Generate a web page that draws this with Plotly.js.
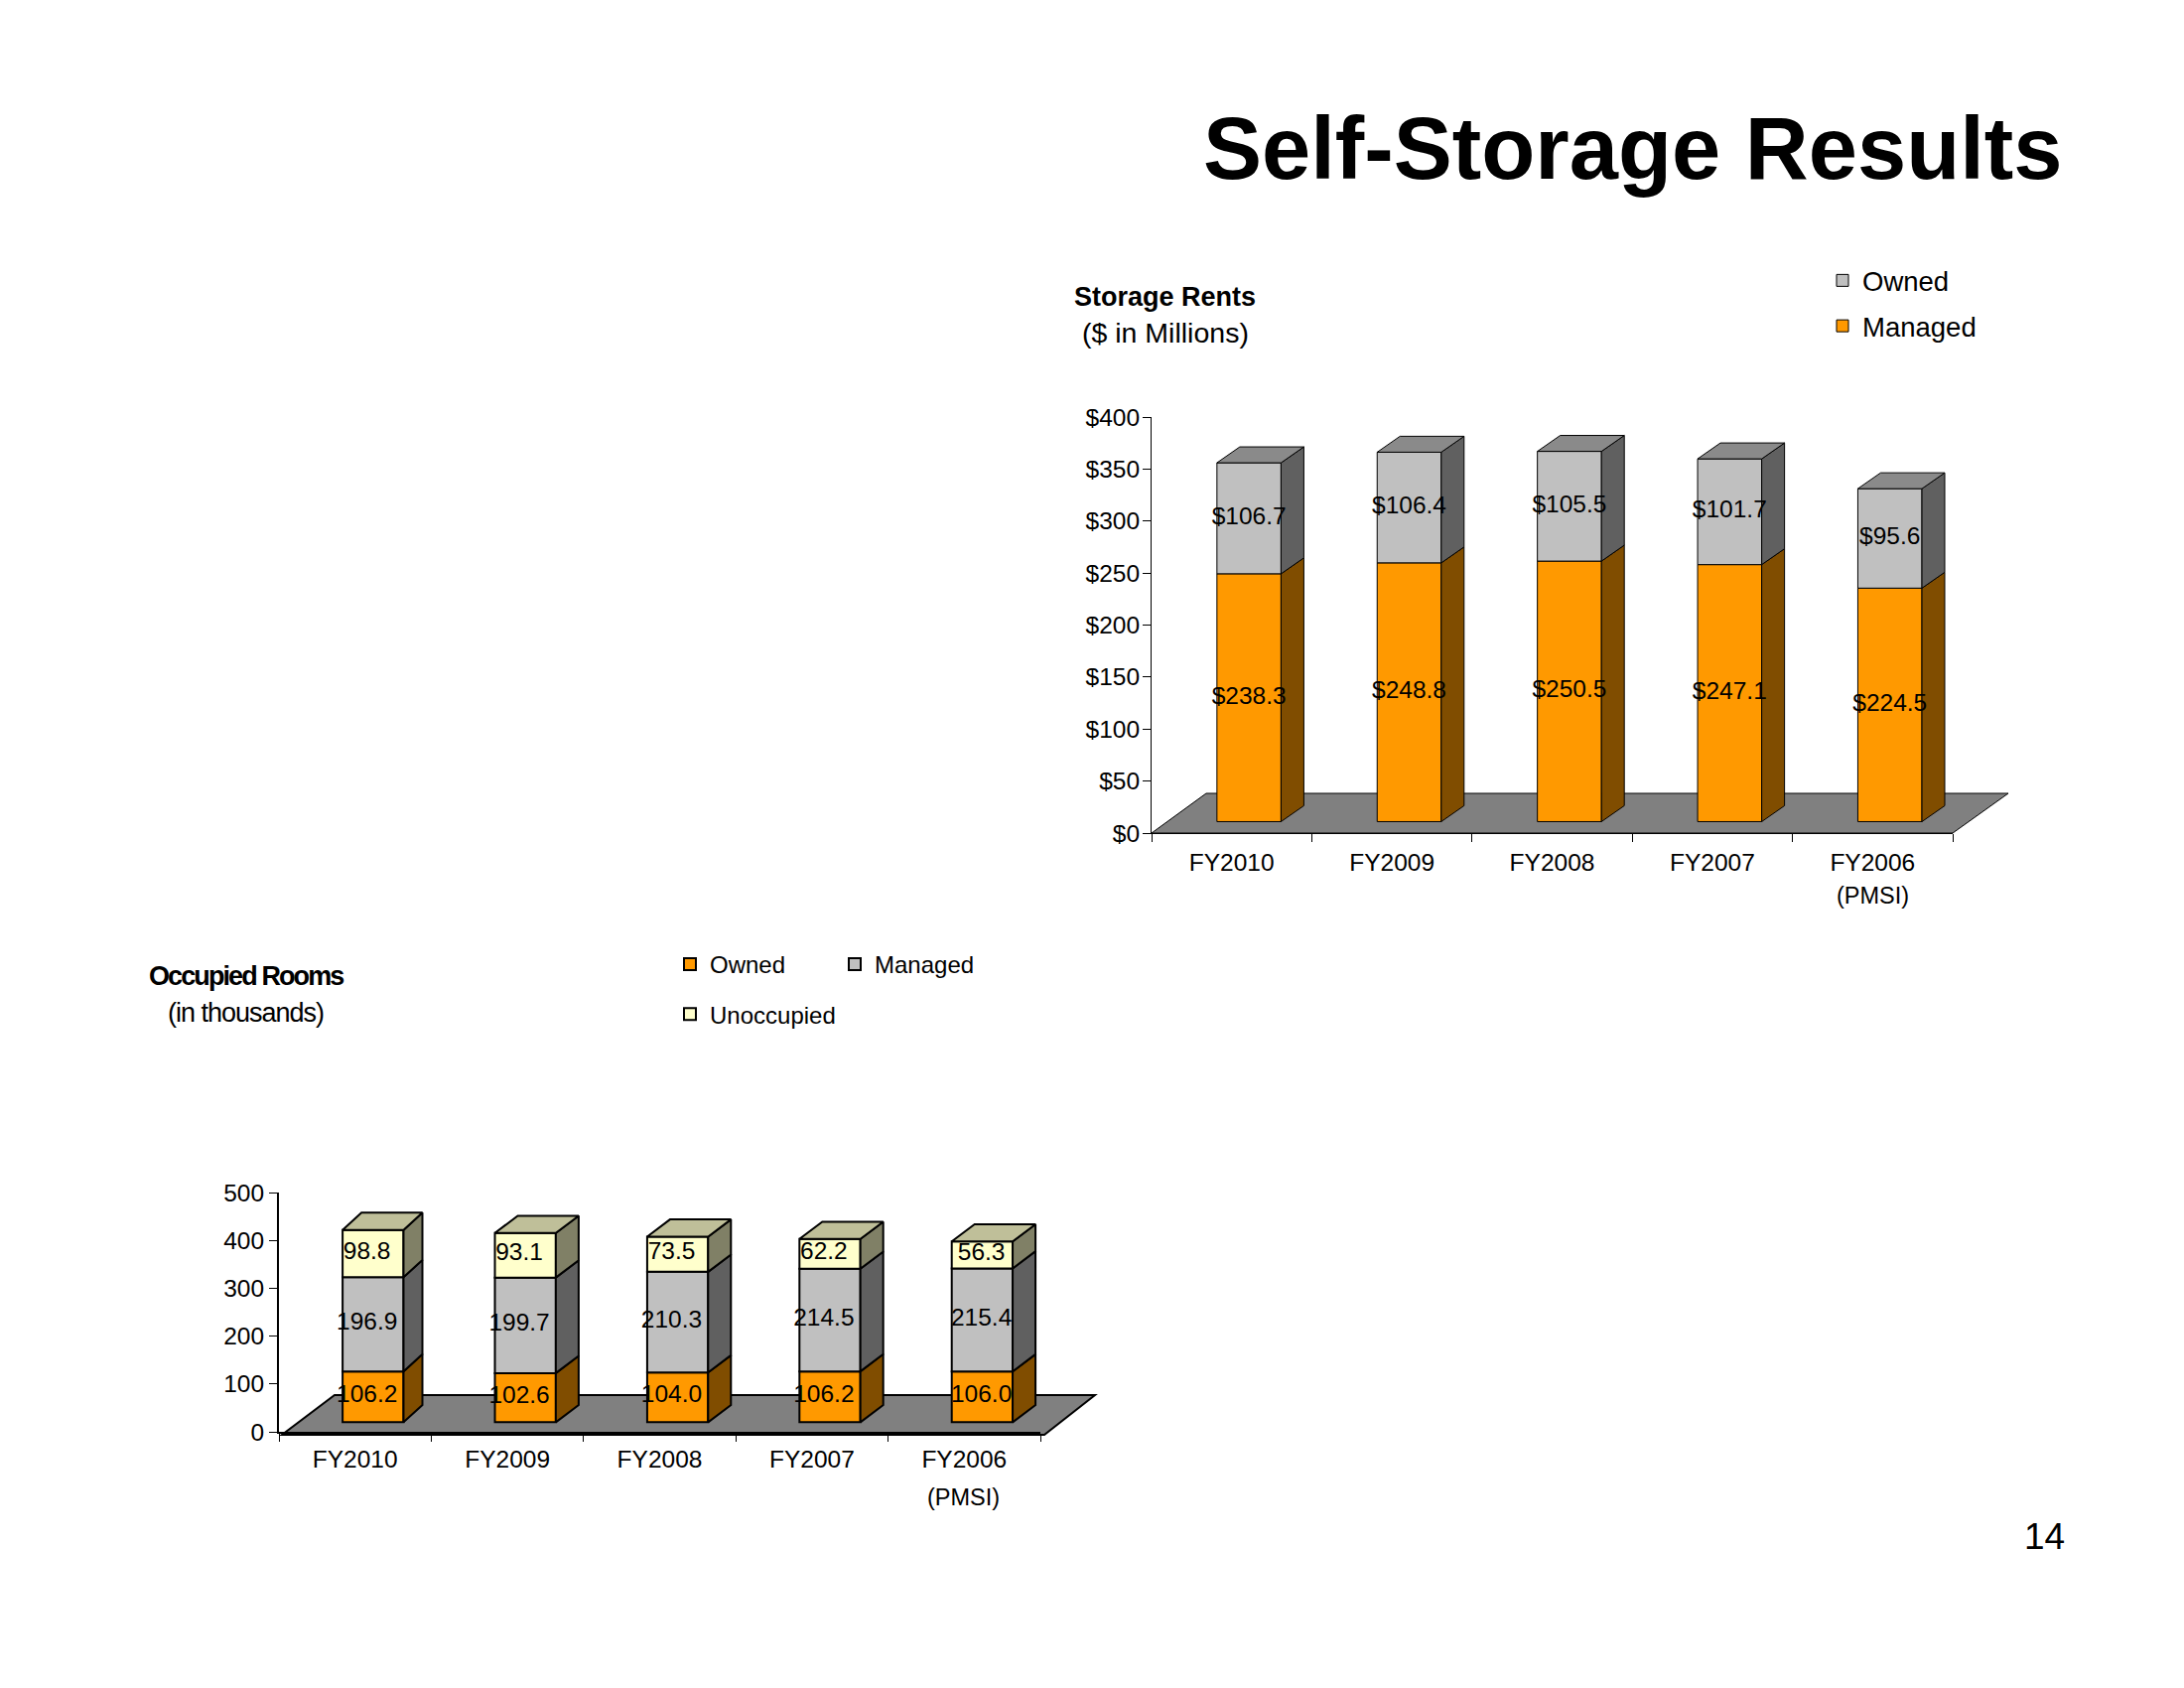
<!DOCTYPE html>
<html>
<head>
<meta charset="utf-8">
<script src="https://cdn.plot.ly/plotly-3.0.1.min.js"></script>
<style>html,body{margin:0;padding:0;background:#fff}</style>
</head>
<body>
<div id="chart" style="width:2200px;height:1700px"></div>
<script>
// ---------- data ----------
const categories = ['FY2010','FY2009','FY2008','FY2007','FY2006'];
const rentsManaged = [238.3,248.8,250.5,247.1,224.5];
const rentsOwned   = [106.7,106.4,105.5,101.7,95.6];
const roomsOwned      = [106.2,102.6,104.0,106.2,106.0];
const roomsManaged    = [196.9,199.7,210.3,214.5,215.4];
const roomsUnoccupied = [98.8,93.1,73.5,62.2,56.3];

// ---------- styles ----------
const FONT = 'Liberation Sans, Arial, sans-serif';
const W = 2200, H = 1700;
const ORANGE = {front:'#FF9900', side:'#804D00', top:'#FF9900'};
const GRAY   = {front:'#C0C0C0', side:'#606060', top:'#8A8A8A'};
const CREAM  = {front:'#FFFFCC', side:'#808066', top:'#BFBF99'};

const px = {
  a:{x0:1160,x1:1967,y0:839,y1:420,max:400,base:11,shift:0.108,dx:[0.1425,0.1425,0.1425,0.1425,0.1425],dy:15.3,lw:1,labelDx:[0,0,0,0,0],labelDy:0,prefix:'$',
     xStandoff:8,yStandoff:-2,floor:[[1160,839],[1967,839],[2023,799],[1215,799]]},
  b:{x0:281,x1:1048,y0:1442,y1:1201,max:500,base:20,shift:0.118,dx:[0.124,0.15,0.15,0.15,0.15],dy:36,lw:2,labelDx:[-0.04,-0.04,-0.04,-0.04,-0.005],labelDy:2,prefix:'',
     xStandoff:5,yStandoff:0,floor:[[284,1445],[1052,1445],[1103,1405],[337,1405]]}
};

const traces = [];
const labelTraces = [];

function addStack(conf, xa, ya, series) {
  const barW = 0.4;
  const bx = categories.map((_, i) => i + 0.5 + conf.shift);
  const running = categories.map(() => conf.base);
  series.forEach((s, si) => {
    const bases = running.slice();
    const tops = bases.map((b, i) => b + s.values[i]);
    traces.push({
      type:'bar', x:bx, y:s.values, base:bases, width:barW, name:s.name,
      xaxis:xa, yaxis:ya, legend:s.legend, legendgroup:s.name, legendrank:s.rank, showlegend:true,
      marker:{color:s.color.front, line:{color:'#000', width:conf.lw}}, hoverinfo:'skip'
    });
    const sx = [], sy = [];
    bx.forEach((x, i) => {
      const r = x + barW/2, d = conf.dx[i];
      sx.push(r, r+d, r+d, r, r, null);
      sy.push(bases[i], bases[i]+conf.dy, tops[i]+conf.dy, tops[i], bases[i], null);
    });
    traces.push({type:'scatter', mode:'lines', x:sx, y:sy, fill:'toself', fillcolor:s.color.side,
      line:{color:'#000', width:conf.lw}, xaxis:xa, yaxis:ya, showlegend:false, hoverinfo:'skip', cliponaxis:false});
    if (si === series.length - 1) {
      const tx = [], ty = [];
      bx.forEach((x, i) => {
        const l = x - barW/2, r = x + barW/2, d = conf.dx[i];
        tx.push(l, l+d, r+d, r, l, null);
        ty.push(tops[i], tops[i]+conf.dy, tops[i]+conf.dy, tops[i], tops[i], null);
      });
      traces.push({type:'scatter', mode:'lines', x:tx, y:ty, fill:'toself', fillcolor:s.color.top,
        line:{color:'#000', width:conf.lw}, xaxis:xa, yaxis:ya, showlegend:false, hoverinfo:'skip', cliponaxis:false});
    }
    labelTraces.push({type:'scatter', mode:'text',
      x:bx.map((x, i) => x + conf.labelDx[i]),
      y:bases.map((b, i) => b + s.values[i]/2 + conf.labelDy),
      text:s.values.map(v => conf.prefix + v.toFixed(1)),
      textposition:'middle center', textfont:{family:FONT, size:24.5, color:'#000'},
      xaxis:xa, yaxis:ya, showlegend:false, hoverinfo:'skip', cliponaxis:false});
    bases.forEach((b, i) => { running[i] = tops[i]; });
  });
}

addStack(px.a, 'x', 'y', [
  {name:'Managed', values:rentsManaged, color:ORANGE, legend:'legend', rank:2},
  {name:'Owned', values:rentsOwned, color:GRAY, legend:'legend', rank:1}
]);
addStack(px.b, 'x2', 'y2', [
  {name:'Owned', values:roomsOwned, color:ORANGE, legend:'legend2', rank:1},
  {name:'Managed', values:roomsManaged, color:GRAY, legend:'legend3', rank:1},
  {name:'Unoccupied', values:roomsUnoccupied, color:CREAM, legend:'legend2', rank:2}
]);

const centers = categories.map((_, i) => i + 0.5);
const bounds = [0,1,2,3,4,5];

function xAxis(conf, anchor) {
  return {
    domain:[conf.x0/W, conf.x1/W], range:[0,5], anchor:anchor, fixedrange:true,
    tickmode:'array', tickvals:centers, ticktext:categories, ticks:'', showgrid:false, zeroline:false,
    tickfont:{family:FONT, size:24.5, color:'#000'}, ticklabelstandoff:conf.xStandoff,
    showline:true, linecolor:'#000', linewidth:conf.lw,
    minor:{tickmode:'array', tickvals:bounds, ticks:'outside', ticklen:8, tickcolor:'#000', tickwidth:1, showgrid:false}
  };
}
function yAxis(conf, anchor, dtick) {
  return {
    domain:[1-conf.y0/H, 1-conf.y1/H], range:[0,conf.max], anchor:anchor, fixedrange:true,
    dtick:dtick, tickprefix:conf.prefix, ticks:'outside', ticklen:8, tickwidth:1, tickcolor:'#000',
    showgrid:false, zeroline:false, showline:true, linecolor:'#000', linewidth:conf.lw,
    tickfont:{family:FONT, size:24.5, color:'#000'}, ticklabelstandoff:conf.yStandoff
  };
}
function floorShape(conf) {
  const d = conf.floor.map((p, i) => (i ? 'L' : 'M') + (p[0]/W) + ',' + (1-p[1]/H)).join(' ') + ' Z';
  return {type:'path', xref:'paper', yref:'paper', layer:'below', path:d,
          fillcolor:'#808080', line:{color:'#000', width:conf.lw}};
}
function note(text, x, y, size, bold, anchor) {
  return {xref:'paper', yref:'paper', x:x/W, y:1-y/H, text:bold ? '<b>'+text+'</b>' : text, showarrow:false,
          xanchor:anchor||'left', yanchor:'middle', xshift:0, align:'left',
          borderpad:0, font:{family:FONT, size:size, color:'#000'}};
}
function legendAt(x, y, size, gap, order) {
  return {x:x/W, y:1-y/H, xanchor:'left', yanchor:'top', orientation:'v', bgcolor:'rgba(0,0,0,0)',
          font:{family:FONT, size:size, color:'#000'}, tracegroupgap:gap, traceorder:order, itemwidth:30, itemclick:false, itemdoubleclick:false};
}

const layout = {
  width:W, height:H, margin:{l:0,r:0,t:0,b:0}, paper_bgcolor:'#fff', plot_bgcolor:'rgba(0,0,0,0)',
  barmode:'overlay', bargap:0, showlegend:true,
  xaxis:xAxis(px.a,'y'), yaxis:yAxis(px.a,'x',50),
  xaxis2:xAxis(px.b,'y2'), yaxis2:yAxis(px.b,'x2',100),
  legend:legendAt(1836, 258, 27.5, 7, 'grouped'),
  legend2:legendAt(675, 949, 24, 16, 'grouped'),
  legend3:legendAt(841, 949, 24, 0, 'normal'),
  shapes:[floorShape(px.a), floorShape(px.b)],
  annotations:[
    note('Self-Storage Results', 2079, 149, 88.5, true, 'right'),
    note('Storage Rents', 1081, 299, 27, true),
    note('($ in Millions)', 1089, 335, 28.5, false),
    note('Occupied Rooms', 149, 983, 27, true),
    note('(in thousands)', 168, 1020, 27, false),
    note('(PMSI)', 1886, 902, 23.5, false, 'center'),
    note('(PMSI)', 970, 1508, 23.5, false, 'center'),
    note('14', 2081, 1547, 37, false, 'right')
  ]
};

Plotly.newPlot('chart', traces.concat(labelTraces), layout, {staticPlot:true, displayModeBar:false}).then(() => {
  document.querySelectorAll('.annotation-text').forEach(t => {
    const s = t.textContent;
    if (s === 'Occupied Rooms') t.style.letterSpacing = '-1.9px';
    if (s === '(in thousands)') t.style.letterSpacing = '-1px';
  });
});
</script>
</body>
</html>
